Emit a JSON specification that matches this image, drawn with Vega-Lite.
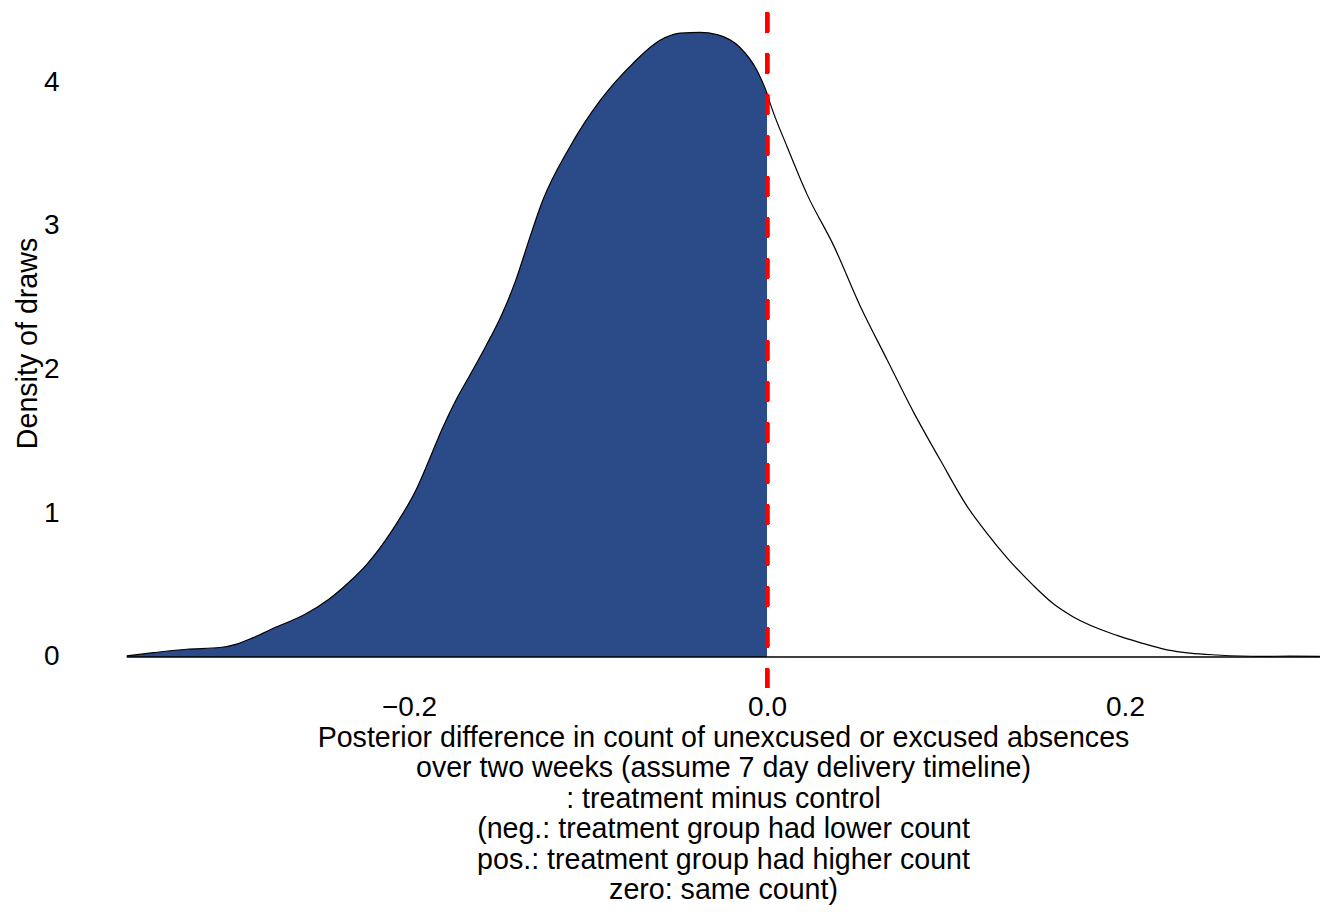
{
  "$schema": "https://vega.github.io/schema/vega-lite/v6.json",
  "width": 1263,
  "height": 687,
  "autosize": {"type": "none"},
  "padding": {"left": 67, "top": 1, "right": 0, "bottom": 224},
  "background": "white",
  "config": {
    "view": {"stroke": null},
    "font": "Liberation Sans",
    "axis": {"grid": false, "domain": false, "ticks": false, "labelFont": "Liberation Sans", "titleFont": "Liberation Sans", "labelColor": "black", "titleColor": "black", "labelFontSize": 28, "titleFontSize": 28.6, "titleFontWeight": "normal"}
  },
  "data": {
    "values": [
      {"x": -0.3577, "d": 0.008},
      {"x": -0.3428, "d": 0.03},
      {"x": -0.3242, "d": 0.054},
      {"x": -0.3056, "d": 0.066},
      {"x": -0.2963, "d": 0.09},
      {"x": -0.287, "d": 0.135},
      {"x": -0.2739, "d": 0.21},
      {"x": -0.2591, "d": 0.29},
      {"x": -0.245, "d": 0.4},
      {"x": -0.2336, "d": 0.52},
      {"x": -0.2236, "d": 0.645},
      {"x": -0.2199, "d": 0.7},
      {"x": -0.2069, "d": 0.93},
      {"x": -0.1962, "d": 1.16},
      {"x": -0.1888, "d": 1.37},
      {"x": -0.1814, "d": 1.59},
      {"x": -0.1739, "d": 1.785},
      {"x": -0.1665, "d": 1.95},
      {"x": -0.1572, "d": 2.16},
      {"x": -0.1479, "d": 2.39},
      {"x": -0.1404, "d": 2.62},
      {"x": -0.133, "d": 2.9},
      {"x": -0.1255, "d": 3.17},
      {"x": -0.1101, "d": 3.55},
      {"x": -0.0933, "d": 3.87},
      {"x": -0.0749, "d": 4.13},
      {"x": -0.0598, "d": 4.29},
      {"x": -0.0486, "d": 4.34},
      {"x": -0.0374, "d": 4.345},
      {"x": -0.0279, "d": 4.33},
      {"x": -0.0151, "d": 4.24},
      {"x": -0.0056, "d": 4.08},
      {"x": 0.0, "d": 3.92},
      {"x": 0.0018, "d": 3.85},
      {"x": 0.0112, "d": 3.55},
      {"x": 0.0223, "d": 3.22},
      {"x": 0.0373, "d": 2.86},
      {"x": 0.0521, "d": 2.44},
      {"x": 0.067, "d": 2.07},
      {"x": 0.082, "d": 1.7},
      {"x": 0.0968, "d": 1.37},
      {"x": 0.1117, "d": 1.05},
      {"x": 0.1229, "d": 0.86},
      {"x": 0.1341, "d": 0.69},
      {"x": 0.1486, "d": 0.5},
      {"x": 0.16, "d": 0.37},
      {"x": 0.1709, "d": 0.28},
      {"x": 0.1955, "d": 0.15},
      {"x": 0.2084, "d": 0.1},
      {"x": 0.2235, "d": 0.05},
      {"x": 0.2363, "d": 0.027},
      {"x": 0.2514, "d": 0.014},
      {"x": 0.2754, "d": 0.004},
      {"x": 0.2922, "d": 0.006},
      {"x": 0.3089, "d": 0.005}
    ]
  },
  "encoding": {
    "x": {
      "field": "x", "type": "quantitative",
      "scale": {"domain": [-0.3911, 0.31453], "nice": false, "zero": false},
      "axis": {
        "values": [-0.2, 0, 0.2], "format": ".1f", "labelPadding": 5,
        "title": ["Posterior difference in count of unexcused or excused absences", "over two weeks (assume 7 day delivery timeline)", ": treatment minus control", "(neg.: treatment group had lower count", "pos.: treatment group had higher count", "zero: same count)"],
        "titleLineHeight": 30.5, "titleBaseline": "top", "titleY": 35, "titleX": 656
      }
    },
    "y": {
      "field": "d", "type": "quantitative",
      "scale": {"domain": [-0.2157, 4.5635], "nice": false, "zero": false},
      "axis": {
        "values": [0, 1, 2, 3, 4], "labelPadding": 8,
        "title": "Density of draws", "titleAngle": -90, "titleBaseline": "alphabetic", "titleAlign": "center", "titleX": -31, "titleY": 342
      }
    }
  },
  "layer": [
    {
      "transform": [{"filter": "datum.x <= 0"}],
      "mark": {"type": "area", "color": "#2b4a88", "interpolate": "monotone", "opacity": 1}
    },
    {
      "mark": {"type": "line", "color": "black", "strokeWidth": 1.2, "interpolate": "monotone"}
    },
    {
      "mark": {"type": "line", "color": "black", "strokeWidth": 1.4},
      "encoding": {
        "y": {"datum": 0}
      }
    },
    {
      "mark": {"type": "rule", "color": "#ff0000", "strokeWidth": 4, "strokeDash": [20, 21], "strokeDashOffset": 29.7},
      "encoding": {
        "x": {"datum": 0},
        "y": null
      }
    }
  ]
}
